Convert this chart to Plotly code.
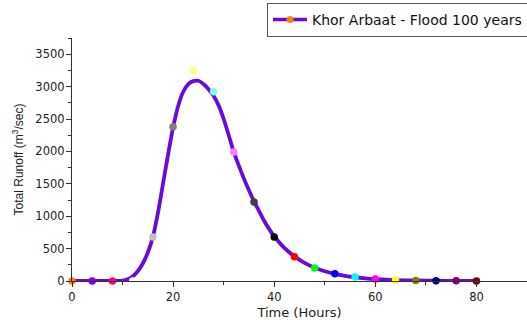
import plotly.graph_objects as go

# Observed hydrograph points (hours, m3/sec)
obs_t = [0, 4, 8, 12, 16, 20, 24, 28, 32, 36, 40, 44, 48, 52, 56, 60, 64, 68, 72, 76, 80]
obs_v = [0, 0, 0, 0, 680, 2380, 3250, 2920, 1990, 1220, 680, 375, 200, 110, 60, 30, 15, 8, 4, 2, 0]
obs_colors = ["#FF8000", "#8000FF", "#FF0080", "#FFFFFF", "#C0C0C0", "#808080", "#FFFF80",
              "#80FFFF", "#FF80FF", "#404040", "#000000", "#FF0000", "#00FF00", "#0000FF",
              "#00FFFF", "#FF00FF", "#FFFF00", "#808000", "#000080", "#800080", "#800000"]

# Smooth hydrograph curve
curve_t = [0, 4, 8, 10, 11, 12, 13, 14, 15, 16, 17, 18, 19, 20, 21, 22, 23, 24, 25, 26, 27, 28,
           29, 30, 31, 32, 33, 34, 35, 36, 37, 38, 39, 40, 42, 44, 46, 48, 50, 52, 54, 56, 58,
           60, 64, 68, 72, 76, 80]
curve_v = [0, 0, 0, 5, 25, 70, 150, 270, 440, 680, 1050, 1500, 1950, 2370, 2700, 2920, 3040,
           3085, 3090, 3040, 2960, 2860, 2710, 2500, 2250, 1990, 1780, 1580, 1400, 1230, 1080,
           930, 800, 690, 510, 380, 280, 205, 150, 110, 80, 58, 42, 30, 15, 8, 4, 2, 0]

series_name = "Khor Arbaat - Flood 100 years"
line_color = "#6A0AD8"

fig = go.Figure()
fig.add_trace(go.Scatter(x=curve_t, y=curve_v, mode="lines", line=dict(color=line_color, width=3.8, shape="spline", smoothing=0.6),
                         showlegend=False, cliponaxis=False, hoverinfo="skip"))
fig.add_trace(go.Scatter(x=obs_t, y=obs_v, mode="markers", marker=dict(color=obs_colors, size=7.5, line=dict(width=0)),
                         showlegend=False, cliponaxis=False))
fig.add_trace(go.Scatter(x=[None], y=[None], mode="lines+markers", name=series_name,
                         line=dict(color=line_color, width=3.5), marker=dict(color="#FF8000", size=7)))

wide = "DejaVu Sans, Verdana, sans-serif"
font = "Liberation Sans, Arial, sans-serif"
fig.update_layout(
    width=527, height=320,
    margin=dict(l=72, r=0, t=38, b=39, autoexpand=False),
    paper_bgcolor="white", plot_bgcolor="white",
    font=dict(family=wide, color="#222222", size=11),
    legend=dict(x=(267 - 72) / 455, y=1 + (38 - 3) / 243, xanchor="left", yanchor="top",
                bordercolor="#555555", borderwidth=1, font=dict(size=14, color="#111111", family=wide),
                itemwidth=34, tracegroupgap=0, bgcolor="white", orientation="h"),
    xaxis=dict(range=[0, 90], showgrid=False, zeroline=False, showline=True, linecolor="#333333", linewidth=1.2,
               ticks="outside", ticklen=5, tickcolor="#333333", tickwidth=1.2, dtick=20, tick0=0,
               minor=dict(ticks="outside", ticklen=3, dtick=10, tickcolor="#333333", tickwidth=1.2),
               tickfont=dict(size=11.5, family=wide),
               title=dict(text="Time (Hours)", font=dict(size=13, family=wide), standoff=6)),
    yaxis=dict(range=[0, 3750], showgrid=False, zeroline=False, showline=True, linecolor="#333333", linewidth=1.2,
               ticks="outside", ticklen=5, tickcolor="#333333", tickwidth=1.2, dtick=500, tick0=0,
               minor=dict(ticks="outside", ticklen=3, dtick=250, tickcolor="#333333", tickwidth=1.2),
               tickfont=dict(size=11.5, family=wide), ticklabelstandoff=-1,
               title=dict(text="Total Runoff (m<sup>3</sup>/sec)", font=dict(size=12, family=font), standoff=9)),
)

fig.write_html("out.html")
